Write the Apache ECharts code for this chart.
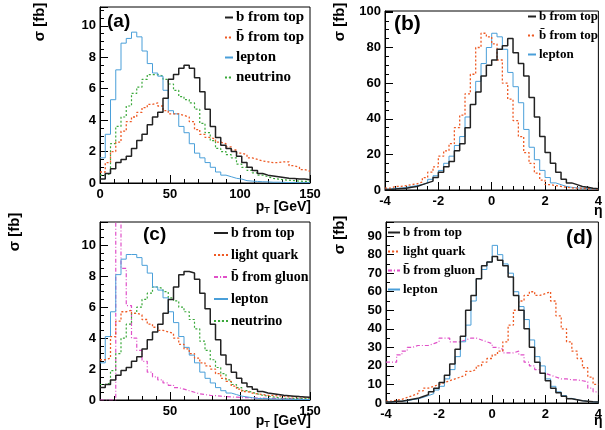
<!DOCTYPE html>
<html>
<head>
<meta charset="utf-8">
<script src="https://cdn.jsdelivr.net/npm/echarts@6/dist/echarts.min.js"></script>
<style>
html, body { margin: 0; background: #fff; }
#main { width: 605px; height: 430px; }
</style>
</head>
<body>
<div id="main"></div>
<script>
// pT histograms: 0-150 GeV, 40 bins ; eta histograms: -4..4, 40 bins
var ptRange = [0, 150];
var etaRange = [-4, 4];

// (a)
var aBTop = [0.25,0.6,0.9,1.3,1.5,1.7,2.2,2.7,3.1,3.7, 4.2,4.5,5.4,6.6,6.9,7.3,7.5,7.3,6.7,5.8, 4.7,3.6,2.9,2.4,2.2,2.0,1.7,1.3,1.0,0.8, 0.6,0.5,0.45,0.4,0.35,0.3,0.28,0.25,0.25,0.2];
var aBbarTop = [0.7,1.3,2.0,2.6,3.3,3.9,4.2,4.5,4.8,5.0, 5.1,4.9,4.6,4.4,4.4,4.3,4.2,3.9,3.4,3.1, 2.9,2.8,2.6,2.5,2.3,2.1,1.9,1.8,1.6,1.5, 1.4,1.35,1.3,1.3,1.35,1.35,1.1,1.0,0.85,0.75];
var aLepton = [1.6,3.1,5.3,7.2,8.9,9.2,9.6,9.3,8.4,7.6, 7.0,6.8,5.9,4.6,4.4,3.6,3.2,2.5,1.9,1.6, 1.3,1.0,0.7,0.5,0.4,0.3,0.25,0.15,0.12,0.1, 0.08,0.07,0.05,0.05,0.04,0.03,0.03,0.02,0.02,0.02];
var aNeutrino = [0.5,0.6,2.5,3.6,4.2,4.9,5.7,6.1,6.6,6.9, 6.9,6.8,6.6,6.3,5.9,5.5,5.3,5.1,4.7,3.8, 3.2,2.7,2.2,2.0,1.8,1.6,1.2,1.0,0.8,0.65, 0.5,0.4,0.3,0.25,0.2,0.18,0.15,0.12,0.1,0.1];

// (b)
var bBTop = [0.3,0.5,0.8,1,1.5,2,3,4,5,7, 10,13,16,22,26,35,48,55,64,70, 73,79,81,85,77,71,64,52,41,30, 21,15,10,6,4,3,2,1.5,1,0.7];
var bBbarTop = [1,2,2,2.5,3,3.5,4.5,7,10,13, 19,22,26,35,42,54,65,80,88,86, 82,73,60,51,39,30,21,15,9.5,5.6, 3,2.5,2,1.5,1.2,1,1,0.8,0.6,0.5];
var bLepton = [0.5,1,1,1.5,2,2.5,3,4,6,8, 11,15,19,25,30,41,48,61,71,80, 88,86,79,66,58,49,34,24,17,11, 7,4,3,2,1.5,1.2,1,0.8,0.6,0.5];

// (c)
var cBTop = [0.8,1.0,1.3,1.6,1.9,2.1,2.5,2.8,3.3,3.9, 4.4,4.9,5.6,6.5,7.3,8.1,8.3,8.2,7.8,6.9, 5.9,4.9,3.9,2.9,2.3,1.8,1.4,1.1,0.85,0.7, 0.55,0.45,0.4,0.35,0.3,0.28,0.25,0.22,0.2,0.18];
var cLight = [2.6,2.7,4.1,5.1,5.7,5.8,5.6,5.5,5.2,4.9, 4.7,4.5,4.4,4.3,4.0,3.6,3.3,3.0,2.7,2.4, 2.2,2.0,1.7,1.4,1.2,0.9,0.7,0.55,0.45,0.4, 0.35,0.3,0.3,0.25,0.25,0.2,0.2,0.2,0.15,0.15];
var cGluon = [0,0,0,14,8.5,6.1,4.0,3.2,2.5,1.8, 1.5,1.3,1.1,0.95,0.8,0.7,0.6,0.5,0.4,0.35, 0.3,0.28,0.25,0.22,0.2,0.18,0.16,0.15,0.14,0.13, 0.12,0.11,0.1,0.1,0.09,0.09,0.08,0.08,0.08,0.08];
var cLepton = [2.4,4.1,5.7,8.1,9.1,9.4,9.4,9.2,8.7,8.2, 7.3,7.1,6.6,5.7,5.0,4.1,3.4,2.9,2.4,1.8, 1.4,1.1,0.8,0.6,0.45,0.35,0.25,0.2,0.15,0.1, 0.1,0.08,0.07,0.06,0.05,0.05,0.04,0.04,0.03,0.03];
var cNeutrino = [1.0,1.1,1.9,3.0,4.0,4.9,5.6,6.0,6.5,6.9, 7.3,7.2,7.0,6.6,6.4,6.0,5.7,5.2,4.6,3.8, 3.2,2.6,2.1,1.7,1.3,1.0,0.8,0.6,0.5,0.4, 0.3,0.25,0.2,0.15,0.1,0.1,0.1,0.1,0.1,0.1];

// (d)
var dBTop = [0.5,1,1,1.5,2,2.5,3.5,4.5,6,8, 11,15,21,29,36,50,58,67,74,76, 79,77,74,68,58,50,40,30,22,16, 12,8,5.5,3.6,2.3,1.8,1.2,1,0.7,0.5];
var dLight = [1,1.5,2,3,4,5,6.5,8,9,10, 11,12,13,14,15,17,18,20,22,24, 26,28,33,42,50,55,58,60,58,59, 60,55,47,40,33,28,24,19,14,10];
var dGluon = [22,22,26,28,30,31,31,31,32,33, 35,35,33,33,34,35,35,34,33,32, 30,29,27,27,28,26,22,20,18,16, 15,14,13,13,12.5,12.5,12,11.5,8,6];
var dLepton = [0.5,0.8,1,1.2,1.8,2.2,3,4,5,7, 9,13,18,25,33,42,55,67,72,76, 85,80,75,70,60,52,45,34,25,20, 13,9,6,4,2.5,1.8,1.2,0.9,0.6,0.5];

var nameB = 'b from top';
var nameBbar = 'b\u0304 from top';
var nameLep = 'lepton';
var nameNu = 'neutrino';
var nameLight = 'light quark';
var nameGluon = 'b\u0304 from gluon';

var cBlack = '#222222', cOrange = '#ee5a24', cBlue = '#4a9fd9', cGreen = '#3aa83a', cPink = '#e050c8';

function hist(range, vals) {
    var w = (range[1] - range[0]) / vals.length;
    var pts = [];
    for (var i = 0; i < vals.length; i++) {
        pts.push([range[0] + i * w, vals[i]]);
    }
    pts.push([range[1], vals[vals.length - 1]]);
    return pts;
}

function histSeries(name, idx, range, vals, color, type, width) {
    return {
        name: name,
        type: 'line',
        xAxisIndex: idx,
        yAxisIndex: idx,
        step: 'end',
        symbol: 'none',
        clip: true,
        data: hist(range, vals),
        lineStyle: { color: color, type: type, width: width },
        itemStyle: { color: color },
        emphasis: { disabled: true }
    };
}

var numFont = { color: '#000', fontFamily: 'Liberation Sans', fontWeight: 'bold', fontSize: 13 };

function xAx(idx, range, interval, showMin) {
    return {
        type: 'value', gridIndex: idx, min: range[0], max: range[1], interval: interval,
        axisLine: { show: true, onZero: false, lineStyle: { color: '#000' } },
        axisTick: { show: true, inside: true, length: 8, lineStyle: { color: '#000' } },
        minorTick: { show: true, splitNumber: 5, length: 4, lineStyle: { color: '#000' } },
        splitLine: { show: false },
        axisLabel: Object.assign({ margin: 5, showMinLabel: showMin }, numFont)
    };
}

function yAx(idx, max, interval, minorSplit) {
    return {
        type: 'value', gridIndex: idx, min: 0, max: max, interval: interval,
        axisLine: { show: true, onZero: false, lineStyle: { color: '#000' } },
        axisTick: { show: true, inside: true, length: 8, lineStyle: { color: '#000' } },
        minorTick: { show: true, splitNumber: minorSplit, length: 4, lineStyle: { color: '#000' } },
        splitLine: { show: false },
        axisLabel: Object.assign({ margin: 4, showMaxLabel: false }, numFont)
    };
}

// itemHeight 1 keeps the legend sample a plain line (the line-series marker shrinks to nothing)
function legendBox(left, top, names, itemWidth, fontSize, gap) {
    return {
        orient: 'vertical', left: left, top: top, data: names,
        itemWidth: itemWidth, itemHeight: 1, itemGap: gap, padding: 0,
        selectedMode: false,
        textStyle: { fontFamily: 'Liberation Serif', fontWeight: 'bold', fontSize: fontSize, color: '#000', padding: [0, 0, 0, -2] }
    };
}

function label(x, y, text, size, extra) {
    return Object.assign({
        type: 'text', x: x, y: y,
        style: { text: text, fill: '#000', font: 'bold ' + size + 'px "Liberation Sans"', textAlign: 'left', textVerticalAlign: 'middle' }
    }, extra || {});
}

function sigma(x, y) {
    return {
        type: 'text', x: x, y: y, rotation: Math.PI / 2,
        style: { text: '\u03c3 [fb]', fill: '#000', font: 'bold 15px "Liberation Sans"', textAlign: 'center', textVerticalAlign: 'middle' }
    };
}

function ptTitle(x, y) {
    return {
        type: 'text', x: x, y: y,
        style: {
            text: '{p|p}{s|T}{p| [GeV]}', textAlign: 'right', textVerticalAlign: 'middle',
            rich: {
                p: { fontFamily: 'Liberation Sans', fontWeight: 'bold', fontSize: 14, fill: '#000' },
                s: { fontFamily: 'Liberation Sans', fontWeight: 'bold', fontSize: 9, fill: '#000', padding: [8, 0, 0, 0] }
            }
        }
    };
}

var dom = document.getElementById('main');
var myChart = echarts.init(dom);

var option = {
    animation: false,
    backgroundColor: '#fff',
    grid: [
        { left: 100, top: 7, width: 210, height: 176, show: true, borderColor: '#000', borderWidth: 1 },
        { left: 385, top: 11, width: 217, height: 179, show: true, borderColor: '#000', borderWidth: 1 },
        { left: 100, top: 222, width: 210, height: 178, show: true, borderColor: '#000', borderWidth: 1 },
        { left: 386, top: 222, width: 216, height: 181, show: true, borderColor: '#000', borderWidth: 1 }
    ],
    xAxis: [
        xAx(0, ptRange, 50, true),
        xAx(1, etaRange, 2, true),
        xAx(2, ptRange, 50, false),
        xAx(3, etaRange, 2, true)
    ],
    yAxis: [
        yAx(0, 11.2, 2, 4),
        yAx(1, 100.5, 20, 4),
        yAx(2, 11.5, 2, 4),
        yAx(3, 97.6, 10, 2)
    ],
    legend: [
        legendBox(224, 10, [nameB, nameBbar, nameLep, nameNu], 8, 15, 5),
        legendBox(527, 10, [nameB, nameBbar, nameLep], 8, 13, 6),
        legendBox(213, 226, [nameB, nameLight, nameGluon, nameLep, nameNu], 14, 14, 8),
        legendBox(387, 226, [nameB, nameLight, nameGluon, nameLep], 12, 13, 6)
    ],
    graphic: [
        sigma(40, 22), sigma(340, 22), sigma(15, 232), sigma(340, 235),
        label(107, 22, '(a)', 19),
        label(394, 24, '(b)', 21),
        label(143, 235, '(c)', 19),
        label(566, 238, '(d)', 21),
        ptTitle(311, 207),
        ptTitle(311, 421),
        label(594, 211, '\u03b7', 14),
        label(594, 421, '\u03b7', 14)
    ],
    series: [
        histSeries(nameNu, 0, ptRange, aNeutrino, cGreen, [2, 2], 1.2),
        histSeries(nameLep, 0, ptRange, aLepton, cBlue, 'solid', 1),
        histSeries(nameBbar, 0, ptRange, aBbarTop, cOrange, [2, 2], 1.3),
        histSeries(nameB, 0, ptRange, aBTop, cBlack, 'solid', 1.5),

        histSeries(nameLep, 1, etaRange, bLepton, cBlue, 'solid', 1),
        histSeries(nameBbar, 1, etaRange, bBbarTop, cOrange, [2, 2], 1.3),
        histSeries(nameB, 1, etaRange, bBTop, cBlack, 'solid', 1.5),

        histSeries(nameGluon, 2, ptRange, cGluon, cPink, [4, 2, 1, 2], 1.2),
        histSeries(nameNu, 2, ptRange, cNeutrino, cGreen, [2, 2], 1.2),
        histSeries(nameLep, 2, ptRange, cLepton, cBlue, 'solid', 1),
        histSeries(nameLight, 2, ptRange, cLight, cOrange, [2, 2], 1.3),
        histSeries(nameB, 2, ptRange, cBTop, cBlack, 'solid', 1.5),

        histSeries(nameGluon, 3, etaRange, dGluon, cPink, [4, 2, 1, 2], 1.2),
        histSeries(nameLight, 3, etaRange, dLight, cOrange, [2, 2], 1.3),
        histSeries(nameLep, 3, etaRange, dLepton, cBlue, 'solid', 1),
        histSeries(nameB, 3, etaRange, dBTop, cBlack, 'solid', 1.5)
    ]
};

myChart.setOption(option, true);
window.onresize = myChart.resize;
</script>
</body>
</html>
